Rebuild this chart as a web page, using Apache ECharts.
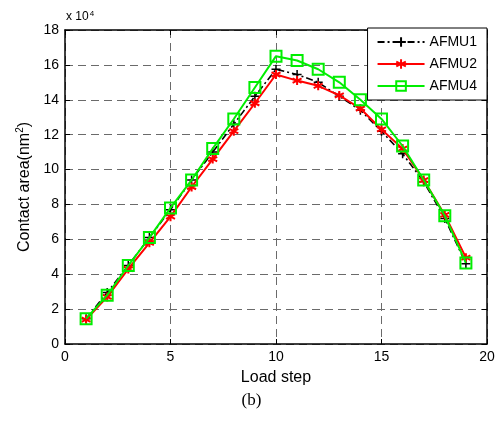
<!DOCTYPE html>
<html>
<head>
<meta charset="utf-8">
<script src="https://cdn.jsdelivr.net/npm/echarts@6/dist/echarts.min.js"></script>
<style>
  html, body { margin: 0; padding: 0; background: #fff; }
  #chart { width: 503px; height: 434px; }
</style>
</head>
<body>
<div id="chart"></div>
<script>
// Load steps and contact areas (in units of 10^4 nm^2)
const loadSteps = [1, 2, 3, 4, 5, 6, 7, 8, 9, 10, 11, 12, 13, 14, 15, 16, 17, 18, 19];
const afmu1 = [1.45, 2.95, 4.5, 6.1, 7.7, 9.4, 11.0, 12.6, 14.2, 15.75, 15.45, 15.0, 14.2, 13.4, 12.2, 10.9, 9.3, 7.2, 4.6];
const afmu2 = [1.4, 2.7, 4.3, 5.8, 7.3, 9.0, 10.6, 12.2, 13.8, 15.45, 15.1, 14.8, 14.25, 13.5, 12.3, 11.2, 9.4, 7.4, 4.95];
const afmu4 = [1.45, 2.8, 4.5, 6.1, 7.8, 9.4, 11.2, 12.9, 14.7, 16.5, 16.25, 15.75, 15.0, 14.0, 12.9, 11.35, 9.4, 7.35, 4.65];
const xTicks = [0, 5, 10, 15, 20];
const yTicks = [0, 2, 4, 6, 8, 10, 12, 14, 16, 18];

const font = 'Liberation Sans, Arial, sans-serif';
const pair = (ys) => loadSteps.map((x, i) => [x, ys[i]]);

const plusPath = 'path://M0,-5L0,5M-5,0L5,0';
const starPath = 'path://M0,-5L0,5M-4.33,-2.5L4.33,2.5M-4.33,2.5L4.33,-2.5';

const chart = echarts.init(document.getElementById('chart'), null, { renderer: 'canvas' });

const gridLine = { show: true, lineStyle: { color: '#6a6a6a', type: [8, 5], width: 1 } };
const axisBase = {
  type: 'value',
  axisLine: { show: true, onZero: false, lineStyle: { color: '#000', width: 1.5 } },
  axisTick: { show: true, inside: true, length: 5, lineStyle: { color: '#000' } },
  axisLabel: { color: '#000', fontFamily: font, fontSize: 14 }
};

chart.setOption({
  animation: false,
  backgroundColor: '#fff',
  grid: { left: 65, right: 16, top: 30, bottom: 90, show: false },
  legend: {
    orient: 'vertical',
    right: 16,
    top: 28,
    width: 118,
    padding: [7, 10, 7, 9],
    itemWidth: 47,
    itemHeight: 12,
    itemGap: 8,
    backgroundColor: '#fff',
    borderColor: '#000',
    borderWidth: 1,
    textStyle: { fontFamily: font, fontSize: 14, color: '#000' },
    data: ['AFMU1', 'AFMU2', 'AFMU4']
  },
  xAxis: [
    Object.assign({}, axisBase, {
      min: 0, max: 20, interval: 5,
      name: 'Load step', nameLocation: 'middle', nameGap: 26,
      nameTextStyle: { fontFamily: font, fontSize: 16, color: '#000' },
      splitLine: gridLine,
      axisLabel: { color: '#000', fontFamily: font, fontSize: 14, margin: 6,
        formatter: (v) => xTicks.includes(v) ? String(v) : '' }
    }),
    Object.assign({}, axisBase, {
      position: 'top', min: 0, max: 20, interval: 5,
      axisLabel: { show: false }, splitLine: { show: false }
    })
  ],
  yAxis: [
    Object.assign({}, axisBase, {
      min: 0, max: 18, interval: 2,
      name: '{t|Contact area(nm}{s|2}{t|)}', nameLocation: 'middle', nameGap: 30,
      nameTextStyle: {
        rich: {
          t: { fontFamily: font, fontSize: 16, color: '#000' },
          s: { fontFamily: font, fontSize: 10, color: '#000', verticalAlign: 'top', padding: [0, 0, 8, 0] }
        }
      },
      splitLine: gridLine,
      axisLabel: { color: '#000', fontFamily: font, fontSize: 14, margin: 6,
        formatter: (v) => yTicks.includes(v) ? String(v) : '' }
    }),
    Object.assign({}, axisBase, {
      position: 'right', min: 0, max: 18, interval: 2,
      axisLabel: { show: false }, splitLine: { show: false }
    })
  ],
  graphic: [
    {
      type: 'text', left: 66, top: 10,
      style: {
        text: '{a|x 10}{b|4}',
        rich: {
          a: { fontFamily: font, fontSize: 12, fill: '#000' },
          b: { fontFamily: font, fontSize: 8, fill: '#000', verticalAlign: 'top', padding: [0, 0, 6, 1] }
        }
      }
    },
    {
      type: 'text', left: 'center', top: 392,
      style: { text: '(b)', fontFamily: 'Liberation Serif, Times New Roman, serif', fontSize: 17, fill: '#000' }
    }
  ],
  series: [
    {
      name: 'AFMU1', type: 'line', data: pair(afmu1),
      symbol: plusPath, symbolSize: 9, showSymbol: true,
      lineStyle: { color: '#000', width: 1.6, type: [7, 3, 2, 3] },
      itemStyle: { color: '#000', borderColor: '#000', borderWidth: 1.5 },
      z: 3
    },
    {
      name: 'AFMU2', type: 'line', data: pair(afmu2),
      symbol: starPath, symbolSize: 9, showSymbol: true,
      lineStyle: { color: '#ff0000', width: 2 },
      itemStyle: { color: '#ff0000', borderColor: '#ff0000', borderWidth: 2 },
      z: 4
    },
    {
      name: 'AFMU4', type: 'line', data: pair(afmu4),
      symbol: 'rect', symbolSize: 11, showSymbol: true,
      lineStyle: { color: '#00ee00', width: 2 },
      itemStyle: { color: 'rgba(0,0,0,0)', borderColor: '#00ee00', borderWidth: 2 },
      z: 5
    }
  ]
});
</script>
</body>
</html>
